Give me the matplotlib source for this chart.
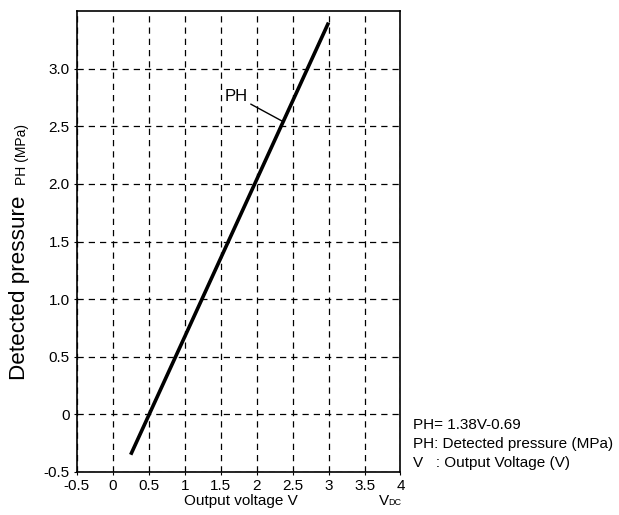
import matplotlib.pyplot as plt

plt.rcParams["font.family"] = ["Liberation Sans", "DejaVu Sans"]

# data
voltage = [0.25, 3.0]
pressure = [-0.35, 3.4]
x_ticks = [-0.5, 0, 0.5, 1, 1.5, 2, 2.5, 3, 3.5, 4]
x_labels = ["-0.5", "0", "0.5", "1", "1.5", "2", "2.5", "3", "3.5", "4"]
y_ticks = [-0.5, 0, 0.5, 1.0, 1.5, 2.0, 2.5, 3.0]
y_labels = ["-0.5", "0", "0.5", "1.0", "1.5", "2.0", "2.5", "3.0"]
notes = ["PH= 1.38V-0.69", "PH: Detected pressure (MPa)", "V   : Output Voltage (V)"]

fig = plt.figure(figsize=(6.19, 5.15), dpi=100)
ax = fig.add_axes([0.124, 0.0835, 0.523, 0.895])

ax.plot(voltage, pressure, color="black", lw=2.6, solid_capstyle="butt", zorder=3)

ax.set_xlim(-0.5, 4)
ax.set_ylim(-0.5, 3.5)
ax.set_xticks(x_ticks)
ax.set_xticklabels(x_labels)
ax.set_yticks(y_ticks)
ax.set_yticklabels(y_labels)
ax.tick_params(length=2, width=0.8, labelsize=11, pad=3)
ax.grid(True, color="black", lw=0.9, linestyle=(0, (5, 4)))
for s in ax.spines.values():
    s.set_linewidth(1.2)

# PH label with leader line
ax.annotate("PH", xy=(2.37, 2.54), xytext=(1.88, 2.76), fontsize=12,
            ha="right", va="center",
            arrowprops=dict(arrowstyle="-", color="black", lw=1.0,
                            shrinkA=0, shrinkB=0))

# axis labels
fig.text(0.389, 0.0194, "Output voltage V", fontsize=11, ha="center", va="baseline")
fig.text(0.612, 0.0194, "V", fontsize=11, ha="left", va="baseline")
fig.text(0.627, 0.0194, "DC", fontsize=6.5, ha="left", va="baseline")
fig.text(0.031, 0.262, "Detected pressure", fontsize=16.2, rotation=90,
         ha="center", va="bottom")
fig.text(0.036, 0.64, "PH (MPa)", fontsize=10, rotation=90,
         ha="center", va="bottom")

for i, line in enumerate(notes):
    fig.text(0.667, 0.175 - i * 0.0369, line, fontsize=11, ha="left", va="center")

fig.savefig("out.png", dpi=100)
